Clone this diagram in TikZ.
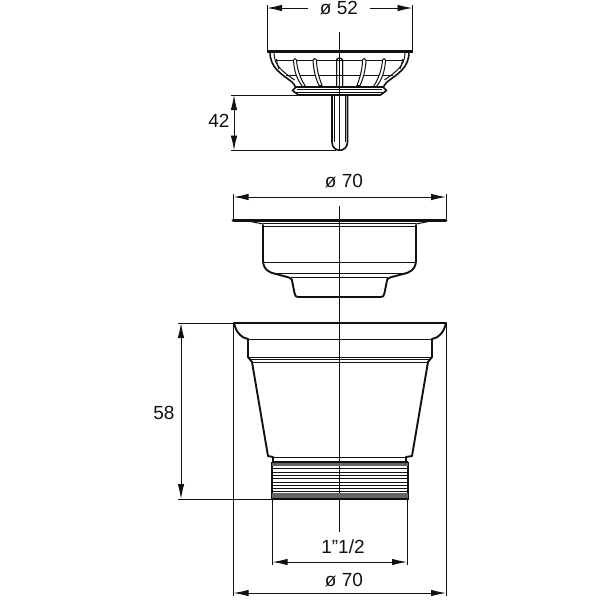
\documentclass[tikz,border=0pt]{standalone}
\usepackage{fontspec}
\setmainfont{Liberation Sans}
\usetikzlibrary{arrows.meta}
\definecolor{ink}{HTML}{111111}
\tikzset{
  part/.style={draw=ink,line width=1.9pt,line join=round,line cap=round},
  thin part/.style={draw=ink,line width=1pt},
  hair/.style={draw=ink,line width=0.95pt},
  dim/.style={draw=ink,line width=0.95pt,{Latex[length=15pt,width=6.5pt]}-{Latex[length=15pt,width=6.5pt]}},
  dimr/.style={draw=ink,line width=0.95pt,-{Latex[length=15pt,width=6.5pt]}},
  lab/.style={font=\fontsize{19}{19}\selectfont,text=ink,inner sep=0pt}
}
\begin{document}
\begin{tikzpicture}[x=1pt,y=-1pt]
\useasboundingbox (0,0) rectangle (600,600);
\fill[white] (0,0) rectangle (600,600);
% ---- extension and centre lines
\draw[hair] (339.5,32) -- (339.5,151);
\draw[hair] (339.5,206) -- (339.5,532);
\draw[hair] (267,5) -- (267,51);
\draw[hair] (412.5,5) -- (412.5,51);
\draw[hair] (231,95) -- (298,95);
\draw[hair] (231,150.5) -- (336,150.5);
\draw[hair] (233.5,194) -- (233.5,219);
\draw[hair] (446,194) -- (446,219);
\draw[hair] (178,323) -- (234,323);
\draw[hair] (178,499) -- (272,499);
\draw[hair] (233.5,323) -- (233.5,596);
\draw[hair] (446,323) -- (446,596);
\draw[hair] (272.5,499) -- (272.5,565);
\draw[hair] (407,499) -- (407,565);
% ---- dimension lines
\coordinate (a1) at (308,8); \coordinate (a2) at (267,8);
\coordinate (a3) at (370,8); \coordinate (a4) at (412.5,8);
\draw[dimr] (a1) -- (a2);
\draw[dimr] (a3) -- (a4);
\coordinate (b1) at (233.5,197); \coordinate (b2) at (446,197);
\draw[dim] (b1) -- (b2);
\coordinate (c1) at (233.5,593); \coordinate (c2) at (446,593);
\draw[dim] (c1) -- (c2);
\coordinate (d1) at (272.5,562); \coordinate (d2) at (407,562);
\draw[dim] (d1) -- (d2);
\coordinate (e1) at (234,95); \coordinate (e2) at (234,150.5);
\draw[dim] (e1) -- (e2);
\coordinate (f1) at (181,323); \coordinate (f2) at (181,499);
\draw[dim] (f1) -- (f2);
% ---- labels
\node[lab] (t52) at (339,8) {ø 52};
\node[lab] (t42) at (219,121) {42};
\node[lab] (t70a) at (344,181) {ø 70};
\node[lab] (t58) at (164,413) {58};
\node[lab] (t112) at (343,547) {1”1/2};
\node[lab] (t70b) at (344,580) {ø 70};
% ---- strainer basket
\draw[draw=ink,line width=2.8pt] (267,51.5) -- (412.5,51.5);
\draw[thin part] (275,60) -- (404,60);
\draw[thin part] (286,75) -- (393,75);
\foreach \s in {1,-1}{
\begin{scope}[shift={(339.5,0)},xscale=\s]
  \draw[part,line width=1.6pt] (69.5,52) .. controls (69.5,68) and (58,74) .. (47.5,82) .. controls (45,84) and (45,86) .. (44,87);
  \draw[thin part] (65.5,53) .. controls (65.5,66) and (56,72) .. (45,80);
  % ribs
  \draw[thin part] (3,86) -- (3,60) .. controls (3,57.5) and (-3,57.5) .. (-3,60) -- (-3,86);
  \draw[thin part,fill=white] (26.5,60) .. controls (26,70) and (24,78) .. (20.5,85.5) -- (17.5,85.5) .. controls (21,76) and (23,68) .. (23,60) .. controls (23,58) and (26.5,58) .. (26.5,60);
  \draw[thin part,fill=white] (46,60) .. controls (45.5,70) and (43,79) .. (37,86.5) -- (34,86.5) .. controls (40,77) and (42.5,68) .. (43,60) .. controls (43,58) and (46,58) .. (46,60);
  \draw[thin part] (63,59) .. controls (62.5,63) and (62,66) .. (60.5,69);
  % gasket
  \draw[part,line width=1.6pt] (43.5,87) -- (47,90.5) -- (41,95) -- (0,95);
\end{scope}}
\draw[draw=ink,line width=1.6pt] (296,87) -- (383,87);
\draw[thin part] (297,89.5) -- (382,89.5);
\draw[thin part] (295,92) -- (384,92);
% pin
\draw[part,line width=1.6pt] (332,96) -- (332,142) .. controls (332,153) and (347.5,153) .. (347.5,142) -- (347.5,96);
\draw[thin part] (334.5,96) -- (334.5,142);
\draw[thin part] (345,96) -- (345,142);
% ---- middle strainer body
\draw[draw=ink,line width=3pt,line cap=round] (233,220) -- (446,220);
\draw[thin part] (248,221) -- (263,224);
\draw[thin part] (431,221) -- (416,224);
\draw[thin part] (263,223) -- (416,223);
\draw[thin part] (263,226) -- (416,226);
\draw[part] (263,225) -- (263,260) .. controls (263,270) and (270,273) .. (276,274) -- (289,277.5)
  .. controls (292,278) and (292,280) .. (292.5,283) -- (294.5,293) .. controls (295,296) and (296,297) .. (298,297)
  -- (381,297) .. controls (383,297) and (384,296) .. (384.5,293) -- (386.5,283) .. controls (387,280) and (387,278) .. (390,277.5)
  -- (403,274) .. controls (409,273) and (416,270) .. (416,260) -- (416,225);
\draw[thin part] (263,262) -- (416,262);
\draw[thin part] (275,273) -- (404,273);
\draw[thin part] (291,277.5) -- (388,277.5);
% ---- lower body
\draw[part] (234,323) -- (446,323);
\draw[part] (234,323) .. controls (236,332) and (241,338) .. (248,339);
\draw[part] (446,323) .. controls (444,332) and (439,338) .. (432,339);
\draw[thin part] (248,339) -- (432,339);
\draw[part] (248,339) -- (248,357) -- (252,362) -- (268,456) -- (273,457) -- (273,462);
\draw[part] (432,339) -- (432,357) -- (428,362) -- (412,456) -- (406,457) -- (406,462);
\draw[thin part] (248,357) -- (432,357);
\draw[thin part] (250,359.5) -- (430,359.5);
\draw[thin part] (252,362) -- (428,362);
\draw[thin part] (273,457) -- (406,457);
% thread
\draw[draw=ink,line width=1.9pt] (272,461.5) -- (272,499) -- (408,499) -- (408,461.5);
\fill[ink!65] (272,462) rectangle (408,466);
\fill[ink!65] (272,493) rectangle (408,498);
\draw[draw=ink,line width=1.2pt] (272,462) -- (408,462);
\foreach \y in {468.5,472.5,475.5,478.5,482.5,485.5,488.5,491.5}{
  \draw[draw=ink,line width=1.1pt] (272,\y) -- (408,\y);
}
\draw[draw=ink,line width=2.2pt] (272,499) -- (408,499);
\end{tikzpicture}
\end{document}
